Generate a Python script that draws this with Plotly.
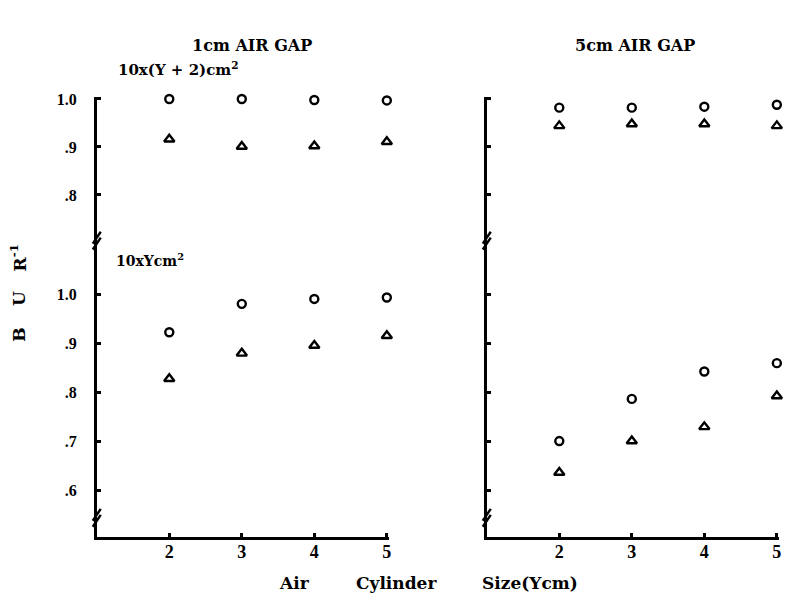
import plotly.graph_objects as go

# ---- data ----
sizes = [2, 3, 4, 5]
gap1_large_circle = [1.000, 1.000, 0.998, 0.997]
gap1_large_tri = [0.916, 0.901, 0.902, 0.911]
gap1_small_circle = [0.922, 0.980, 0.990, 0.993]
gap1_small_tri = [0.827, 0.879, 0.895, 0.915]
gap5_large_circle = [0.982, 0.982, 0.984, 0.988]
gap5_large_tri = [0.944, 0.948, 0.948, 0.944]
gap5_small_circle = [0.700, 0.786, 0.842, 0.859]
gap5_small_tri = [0.636, 0.700, 0.729, 0.792]

upper_ticks = [1.0, 0.9, 0.8]
upper_labels = ["1.0", ".9", ".8"]
lower_ticks = [1.0, 0.9, 0.8, 0.7, 0.6]
lower_labels = ["1.0", ".9", ".8", ".7", ".6"]
x_ticks = [2, 3, 4, 5]
x_labels = ["2", "3", "4", "5"]

W, H = 790, 599
FONT = "DejaVu Serif"
TFONT = "Liberation Serif"

def px(x):
    return x / W

def py(y):
    return (H - y) / H

fig = go.Figure()

circ = dict(symbol="circle-open", size=8, color="black", line=dict(width=2.4, color="black"))
tri = dict(symbol="triangle-up-open", size=9, color="black", line=dict(width=2.4, color="black"))

series = [
    (gap1_large_circle, circ, "x", "y2"),
    (gap1_large_tri, tri, "x", "y2"),
    (gap1_small_circle, circ, "x", "y"),
    (gap1_small_tri, tri, "x", "y"),
    (gap5_large_circle, circ, "x2", "y4"),
    (gap5_large_tri, tri, "x2", "y4"),
    (gap5_small_circle, circ, "x2", "y3"),
    (gap5_small_tri, tri, "x2", "y3"),
]
for vals, mk, xa, ya in series:
    fig.add_trace(go.Scatter(x=sizes, y=vals, mode="markers", marker=mk,
                             xaxis=xa, yaxis=ya, showlegend=False, cliponaxis=False))

yfont = dict(family=TFONT, size=16, color="black", weight="bold")
xfont = dict(family=TFONT, size=18, color="black", weight="bold")
axis_common = dict(showline=True, linecolor="black", linewidth=2.8, showgrid=False,
                   zeroline=False, ticks="inside", ticklen=4, tickwidth=2.8,
                   tickcolor="black")

xl = [px(97), px(390)]
xr = [px(488), px(781)]
lower_dom = [py(536), py(235)]
upper_dom = [py(235), py(92)]
lower_rng = [0.505, 1.113]
upper_rng = [0.709, 1.004]

fig.update_layout(
    width=W, height=H,
    margin=dict(l=0, r=0, t=0, b=0),
    paper_bgcolor="white", plot_bgcolor="white",
    xaxis=dict(domain=xl, range=[1, 5.03], anchor="y", tickvals=x_ticks, ticktext=x_labels,
               ticklabelstandoff=-3, tickfont=xfont, **axis_common),
    xaxis2=dict(domain=xr, range=[1, 5.03], anchor="y3", tickvals=x_ticks, ticktext=x_labels,
                ticklabelstandoff=-3, tickfont=xfont, **axis_common),
    yaxis=dict(domain=lower_dom, range=lower_rng, anchor="x", tickvals=lower_ticks,
               ticktext=lower_labels, ticklabelstandoff=14, tickfont=yfont, **axis_common),
    yaxis2=dict(domain=upper_dom, range=upper_rng, anchor="x", tickvals=upper_ticks,
                ticktext=upper_labels, ticklabelstandoff=14, tickfont=yfont, **axis_common),
    yaxis3=dict(domain=lower_dom, range=lower_rng, anchor="x2", tickvals=lower_ticks,
                showticklabels=False, **axis_common),
    yaxis4=dict(domain=upper_dom, range=upper_rng, anchor="x2", tickvals=upper_ticks,
                showticklabels=False, **axis_common),
)

# axis break marks (//)
shapes = []
for ax_x in (97, 488):
    for by in (237, 517):
        for off in (-3, 3):
            shapes.append(dict(type="line", xref="paper", yref="paper",
                               x0=px(ax_x - 4), y0=py(by + off + 6),
                               x1=px(ax_x + 4), y1=py(by + off - 6),
                               line=dict(color="black", width=2.4)))
fig.update_layout(shapes=shapes)

def ann(text, x, y, size, xanchor="center", angle=0):
    return dict(text=text, x=px(x), y=py(y), xref="paper", yref="paper",
                showarrow=False, textangle=angle, xanchor=xanchor, yanchor="middle",
                font=dict(family=FONT, size=size, color="black", weight="bold"))

annotations = [
    ann("1cm AIR GAP", 253, 40, 16),
    ann("5cm AIR GAP", 637, 40, 16),
    ann("10x(Y + 2)cm<sup>2</sup>", 116, 64, 15, xanchor="left"),
    ann("10xYcm<sup>2</sup>", 114, 257, 14, xanchor="left"),
    ann("B", 19, 332, 17, angle=-90),
    ann("U", 19, 295, 17, angle=-90),
    ann("R<sup>-1</sup>", 19, 254, 17, angle=-90),
    ann("Air", 295, 583, 17),
    ann("Cylinder", 398, 583, 17),
    ann("Size(Ycm)", 531, 583, 17),
]
fig.update_layout(annotations=annotations)

fig.write_html("out.html")
